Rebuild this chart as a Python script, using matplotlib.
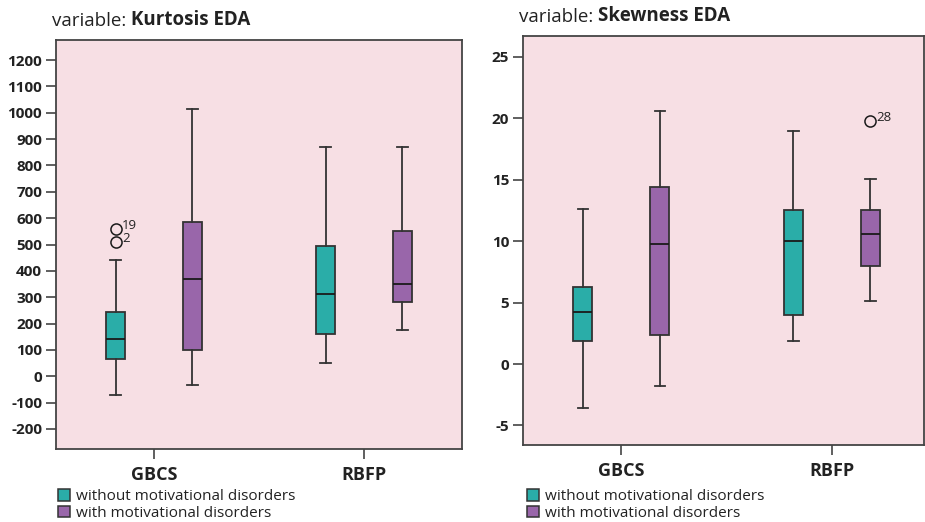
import matplotlib
matplotlib.use("Agg")
import matplotlib.pyplot as plt
from matplotlib.patches import Patch

plt.rcParams["font.family"] = ["Open Sans", "DejaVu Sans"]

GROUPS = ["GBCS", "RBFP"]
SERIES = ["without motivational disorders", "with motivational disorders"]
COLORS = ["#2AADA8", "#9966AA"]

# five-number summaries per group: [without, with]
# (whislo, q1, med, q3, whishi)
KURT_STATS = {
    "GBCS": [(-71, 64, 141, 242, 442), (-33, 99, 368, 586, 1015)],
    "RBFP": [(49, 161, 311, 494, 870), (176, 282, 352, 551, 870)],
}
KURT_FLIERS = {("GBCS", 0): [(558, "19"), (510, "2")]}
KURT_TICKS = list(range(-200, 1201, 100))

SKEW_STATS = {
    "GBCS": [(-3.58, 1.87, 4.2, 6.24, 12.64), (-1.79, 2.39, 9.76, 14.38, 20.59)],
    "RBFP": [(1.87, 4.01, 9.98, 12.5, 18.93), (5.15, 7.95, 10.55, 12.5, 15.03)],
}
SKEW_FLIERS = {("RBFP", 1): [(19.77, "28")]}
SKEW_TICKS = [-5, 0, 5, 10, 15, 20, 25]

W, H = 925, 522
BG = "#F7DFE4"
EDGE = "#333333"
OFFSET = 0.183


def draw_panel(fig, ax, stats, fliers, ticks, ylim, xlim, var_name, legend_x):
    ax.set_facecolor(BG)
    for gi, group in enumerate(GROUPS):
        for si in range(2):
            lo, q1, med, q3, hi = stats[group][si]
            pos = gi + 1 + (OFFSET if si else -OFFSET)
            fl = [v for v, _ in fliers.get((group, si), [])]
            ax.bxp(
                [{"whislo": lo, "q1": q1, "med": med, "q3": q3, "whishi": hi, "fliers": fl}],
                positions=[pos], widths=0.09, patch_artist=True, showfliers=True,
                boxprops={"facecolor": COLORS[si], "edgecolor": EDGE, "linewidth": 1.3},
                medianprops={"color": "#1a1a1a", "linewidth": 1.3},
                whiskerprops={"color": EDGE, "linewidth": 1.3},
                capprops={"color": EDGE, "linewidth": 1.3},
                capwidths=0.05,
                flierprops={"marker": "o", "markersize": 8, "markerfacecolor": "none",
                            "markeredgecolor": "#1a1a1a", "markeredgewidth": 1.1},
            )
            for v, lbl in fliers.get((group, si), []):
                ax.annotate(lbl, (pos, v), xytext=(4.5, 2.5), textcoords="offset points",
                            fontsize=9.5, color="#222222", ha="left", va="center")
    ax.set_xlim(*xlim)
    ax.set_ylim(*ylim)
    ax.set_yticks(ticks)
    ax.set_yticklabels([str(t) for t in ticks], fontsize=11, fontweight="bold", color="#222222")
    ax.set_xticks([1, 2])
    ax.set_xticklabels(GROUPS, fontsize=13, fontweight="bold", color="#222222")
    ax.tick_params(axis="both", length=7, width=1.2, color="#444444")
    ax.tick_params(axis="x", pad=5)
    ax.tick_params(axis="y", pad=3)
    for sp in ax.spines.values():
        sp.set_color("#444444")
        sp.set_linewidth(1.3)
    t = ax.text(-0.01, 1.025, "variable: ", transform=ax.transAxes, fontsize=13.5,
                color="#222222", ha="left", va="bottom")
    ax.annotate(var_name, xycoords=t, xy=(1, 0), va="bottom", ha="left",
                fontsize=13.5, fontweight="bold", color="#222222")
    handles = [Patch(facecolor=COLORS[i], edgecolor=EDGE, linewidth=1.1, label=SERIES[i])
               for i in range(2)]
    ax.legend(handles=handles, loc="upper left", bbox_to_anchor=(legend_x / W, 1 - 489 / H),
              bbox_transform=fig.transFigure,
              frameon=False, fontsize=11, handlelength=0.8, handleheight=0.8,
              handletextpad=0.4, labelspacing=0.1, borderaxespad=0, borderpad=0,
              labelcolor="#222222")


fig = plt.figure(figsize=(W / 100, H / 100), dpi=100)
ax1 = fig.add_axes([56 / W, (H - 449) / H, (462 - 56) / W, (449 - 40) / H])
ax2 = fig.add_axes([523 / W, (H - 445) / H, (924 - 523) / W, (445 - 36) / H])

draw_panel(fig, ax1, KURT_STATS, KURT_FLIERS, KURT_TICKS, (-276, 1276), (0.533, 2.467),
           "Kurtosis EDA", 58)
draw_panel(fig, ax2, SKEW_STATS, SKEW_FLIERS, SKEW_TICKS, (-6.59, 26.7), (0.533, 2.438),
           "Skewness EDA", 527)

fig.savefig("out.png", dpi=100)
